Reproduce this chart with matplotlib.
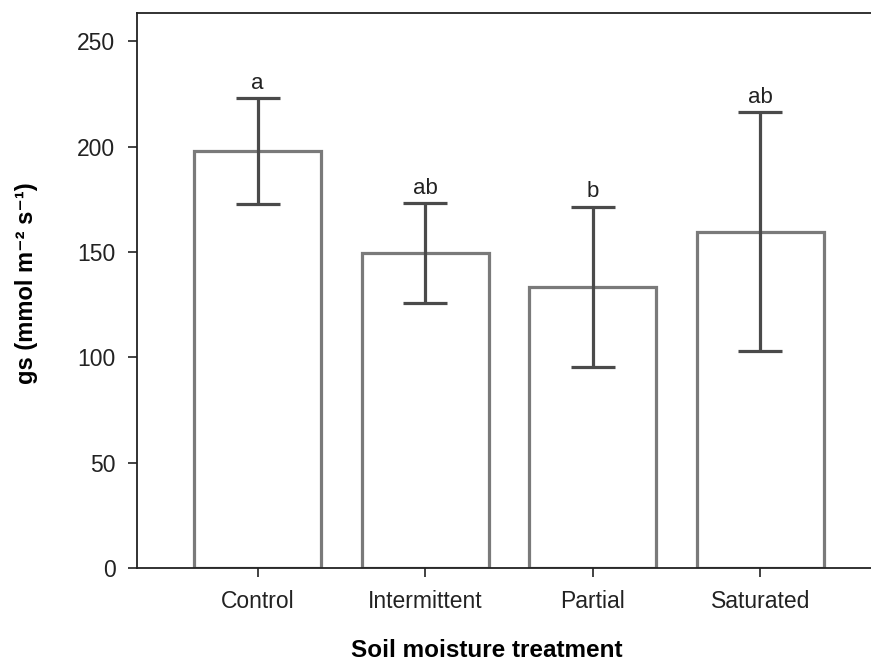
import matplotlib
matplotlib.use("Agg")
import matplotlib.pyplot as plt

categories = ["Control", "Intermittent", "Partial", "Saturated"]
means = [198, 149.5, 133.4, 159.7]
errors = [25, 23.7, 38.2, 56.7]
letters = ["a", "ab", "b", "ab"]

plt.rcParams['font.family'] = ['Liberation Sans', 'DejaVu Sans']

fig = plt.figure(figsize=(8.71, 6.61), dpi=100)
ax = fig.add_axes([137/871, 1 - 568/661, 1 - 137/871, (568 - 13)/661])

x = list(range(len(categories)))
ax.bar(x, means, width=0.76, facecolor='white', edgecolor='#7a7a7a', linewidth=2.3, zorder=2)
ax.errorbar(x, means, yerr=errors, fmt='none', ecolor='#4a4a4a', elinewidth=2.3,
            capsize=15.5, capthick=2.3, zorder=3)
for xi, m, e, l in zip(x, means, errors, letters):
    ax.annotate(l, (xi, m + e), xytext=(0, 3), textcoords='offset points',
                ha='center', va='bottom', fontsize=16, color='#222222')

ax.set_xlim(-0.72, 3.66)
ax.set_ylim(0, 263.5)
ax.set_yticks([0, 50, 100, 150, 200, 250])
ax.set_xticks(x)
ax.set_xticklabels(categories)
ax.tick_params(axis='both', labelsize=16.5, colors='#222222', length=6.5, width=1.2)
ax.tick_params(axis='y', pad=9)
ax.tick_params(axis='x', pad=9)
for s in ['left', 'bottom', 'top']:
    ax.spines[s].set_color('#222222')
    ax.spines[s].set_linewidth(1.3)
ax.spines['right'].set_visible(False)

ax.set_xlabel("Soil moisture treatment", fontsize=17.5, fontweight='bold')
ax.xaxis.set_label_coords(0.476, -0.148)
ax.xaxis.label.set_va('center')
ax.set_ylabel("gs (mmol m⁻² s⁻¹)", fontsize=17, fontweight='bold')
ax.yaxis.set_label_coords(-0.150, 0.513)
ax.yaxis.label.set_va('center')
ax.yaxis.label.set_ha('center')

fig.savefig("out.png", dpi=100)
